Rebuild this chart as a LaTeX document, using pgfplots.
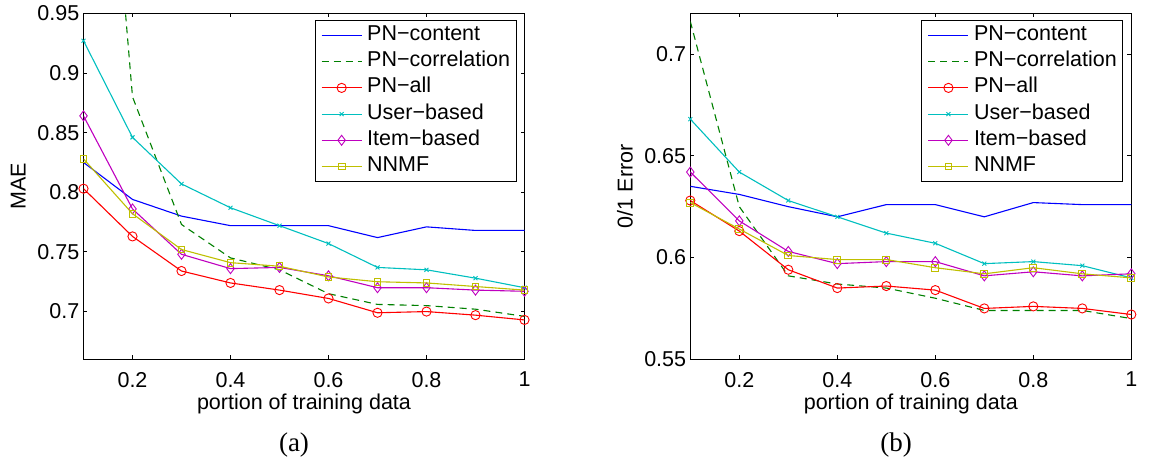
\documentclass[border=0pt]{standalone}
\usepackage{fontspec}
\setmainfont{Liberation Sans}
\newfontfamily\serifcap{Liberation Serif}
\usepackage{pgfplots}
\pgfplotsset{compat=1.18}
\definecolor{mblue}{rgb}{0,0,1}
\definecolor{mgreen}{rgb}{0,0.5,0}
\definecolor{mred}{rgb}{1,0,0}
\definecolor{mcyan}{rgb}{0,0.75,0.75}
\definecolor{mmag}{rgb}{0.75,0,0.75}
\definecolor{myel}{rgb}{0.75,0.75,0}
\newcommand\fs{\fontsize{21.5bp}{25bp}\selectfont}
\pgfplotsset{
  legend image code/.code={\draw[mark repeat=2,mark phase=2,#1] plot coordinates {(0bp,0bp) (20bp,0bp) (40bp,0bp)};},
  myaxis/.style={
    scale only axis, width=441bp, height=346bp,
    xmin=0.1, xmax=1, xtick={0.2,0.4,0.6,0.8,1},
    tick align=inside, major tick length=4bp,
    axis line style={line width=1.2bp},
    every tick/.style={black, line width=0.9bp},
    clip mode=individual,
    /pgf/number format/assume math mode=true,
    tick label style={font=\fs},
    yticklabel style={inner sep=0pt, xshift=-4bp},
    xticklabel style={inner sep=0pt, yshift=-12.5bp},
    label style={font=\fs},
    xlabel={portion of training data},
    xlabel style={at={(axis description cs:0.5,0)}, anchor=north, inner sep=0pt, yshift=-34bp},
    ylabel style={at={(axis description cs:-0.148,0.5)}, anchor=center},
    legend cell align=left,
    legend style={at={(rel axis cs:1,1)}, anchor=north east, xshift=-8bp, yshift=-6.7bp,
      draw=black, line width=1bp, fill=white, inner xsep=6bp, inner ysep=5bp,
      row sep=6.2bp, column sep=5bp,
      nodes={inner sep=0pt, text height=15bp, text depth=5bp, font=\fs}},
  },
  pcontent/.style={mblue, line width=1.1bp, no markers},
  pcorr/.style={mgreen, line width=1.1bp, dash pattern=on 7bp off 5bp, no markers},
  pall/.style={mred, line width=1.1bp, mark=o, mark size=4.6bp, mark options={solid, line width=0.9bp}},
  puser/.style={mcyan, line width=1.1bp, mark=x, mark size=2.8bp, mark options={solid, line width=0.9bp}},
  pitem/.style={mmag, line width=1.1bp, mark=diamond, mark size=5bp, mark options={solid, line width=0.9bp}},
  pnnmf/.style={myel, line width=1.1bp, mark=square, mark size=3.4bp, mark options={solid, line width=0.9bp}},
}
\begin{document}
\begin{tikzpicture}
\useasboundingbox (0,0) rectangle (1154bp,461bp);
\begin{axis}[myaxis, at={(83.5bp,101.7bp)}, anchor=south west,
  ymin=0.66, ymax=0.95, ytick={0.7,0.75,0.8,0.85,0.9,0.95}, ylabel={MAE}]
\addplot[pcontent] coordinates {(0.1,0.825)(0.2,0.794)(0.3,0.780)(0.4,0.772)(0.5,0.772)(0.6,0.772)(0.7,0.762)(0.8,0.771)(0.9,0.768)(1,0.768)};
\addlegendentry{PN−content}
\addplot[pcorr] coordinates {(0.1,1.37)(0.2,0.880)(0.3,0.773)(0.4,0.745)(0.5,0.735)(0.6,0.715)(0.7,0.706)(0.8,0.705)(0.9,0.702)(1,0.696)};
\addlegendentry{PN−correlation}
\addplot[pall] coordinates {(0.1,0.803)(0.2,0.763)(0.3,0.734)(0.4,0.724)(0.5,0.718)(0.6,0.711)(0.7,0.699)(0.8,0.700)(0.9,0.697)(1,0.693)};
\addlegendentry{PN−all}
\addplot[puser] coordinates {(0.1,0.927)(0.2,0.846)(0.3,0.807)(0.4,0.787)(0.5,0.772)(0.6,0.757)(0.7,0.737)(0.8,0.735)(0.9,0.728)(1,0.720)};
\addlegendentry{User−based}
\addplot[pitem] coordinates {(0.1,0.864)(0.2,0.786)(0.3,0.748)(0.4,0.736)(0.5,0.737)(0.6,0.730)(0.7,0.720)(0.8,0.720)(0.9,0.718)(1,0.717)};
\addlegendentry{Item−based}
\addplot[pnnmf] coordinates {(0.1,0.828)(0.2,0.782)(0.3,0.752)(0.4,0.741)(0.5,0.738)(0.6,0.729)(0.7,0.725)(0.8,0.724)(0.9,0.721)(1,0.718)};
\addlegendentry{NNMF}
\end{axis}
\begin{axis}[myaxis, at={(690.3bp,101.7bp)}, anchor=south west,
  ymin=0.55, ymax=0.72, ytick={0.55,0.6,0.65,0.7}, ylabel={0/1 Error}]
\addplot[pcontent] coordinates {(0.1,0.635)(0.2,0.631)(0.3,0.625)(0.4,0.620)(0.5,0.626)(0.6,0.626)(0.7,0.620)(0.8,0.627)(0.9,0.626)(1,0.626)};
\addlegendentry{PN−content}
\addplot[pcorr] coordinates {(0.1,0.716)(0.2,0.625)(0.3,0.591)(0.4,0.587)(0.5,0.585)(0.6,0.580)(0.7,0.574)(0.8,0.574)(0.9,0.574)(1,0.570)};
\addlegendentry{PN−correlation}
\addplot[pall] coordinates {(0.1,0.628)(0.2,0.613)(0.3,0.594)(0.4,0.585)(0.5,0.586)(0.6,0.584)(0.7,0.575)(0.8,0.576)(0.9,0.575)(1,0.572)};
\addlegendentry{PN−all}
\addplot[puser] coordinates {(0.1,0.668)(0.2,0.642)(0.3,0.628)(0.4,0.620)(0.5,0.612)(0.6,0.607)(0.7,0.597)(0.8,0.598)(0.9,0.596)(1,0.590)};
\addlegendentry{User−based}
\addplot[pitem] coordinates {(0.1,0.642)(0.2,0.618)(0.3,0.603)(0.4,0.597)(0.5,0.598)(0.6,0.598)(0.7,0.591)(0.8,0.593)(0.9,0.591)(1,0.592)};
\addlegendentry{Item−based}
\addplot[pnnmf] coordinates {(0.1,0.627)(0.2,0.614)(0.3,0.601)(0.4,0.599)(0.5,0.599)(0.6,0.595)(0.7,0.592)(0.8,0.595)(0.9,0.592)(1,0.590)};
\addlegendentry{NNMF}
\end{axis}
\node[font=\serifcap\fontsize{27bp}{30bp}\selectfont, inner sep=0pt] at (294bp,16bp) {(a)};
\node[font=\serifcap\fontsize{27bp}{30bp}\selectfont, inner sep=0pt] at (896bp,16bp) {(b)};
\end{tikzpicture}
\end{document}
